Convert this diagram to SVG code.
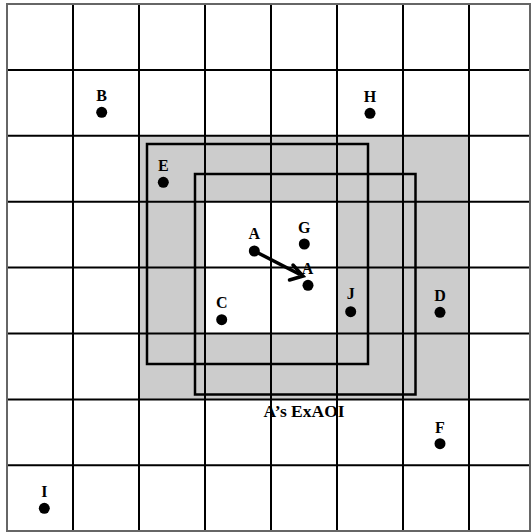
<svg xmlns="http://www.w3.org/2000/svg" width="531" height="532" viewBox="0 0 531 532">
<style>
.grid line{stroke:#000;stroke-width:2}
.lbl{font-family:"Liberation Serif","Times New Roman",serif;font-weight:bold;font-size:16px;text-anchor:middle;fill:#000}
.dot{fill:#000}
.sq{fill:none;stroke:#000;stroke-width:2.5}
</style>
<rect x="0" y="0" width="531" height="532" fill="#fff"/>
<g id="exaoi-area">
<rect x="139" y="135.8" width="330" height="263.6" fill="#cccccc"/>
<rect x="205" y="201.7" width="132" height="131.8" fill="#fff"/>
</g>
<g class="grid" id="grid">
<line x1="73" y1="4" x2="73" y2="531"/>
<line x1="139" y1="4" x2="139" y2="531"/>
<line x1="205" y1="4" x2="205" y2="531"/>
<line x1="271" y1="4" x2="271" y2="531"/>
<line x1="337" y1="4" x2="337" y2="531"/>
<line x1="403" y1="4" x2="403" y2="531"/>
<line x1="469" y1="4" x2="469" y2="531"/>
<line x1="7" y1="69.9" x2="530" y2="69.9"/>
<line x1="7" y1="135.8" x2="530" y2="135.8"/>
<line x1="7" y1="201.7" x2="530" y2="201.7"/>
<line x1="7" y1="267.6" x2="530" y2="267.6"/>
<line x1="7" y1="333.5" x2="530" y2="333.5"/>
<line x1="7" y1="399.4" x2="530" y2="399.4"/>
<line x1="7" y1="465.3" x2="530" y2="465.3"/>
</g>
<rect x="7" y="4" width="523" height="527" fill="none" stroke="#666" stroke-width="2"/>
<g id="aoi-squares">
<rect class="sq" x="147" y="144" width="221" height="220"/>
<rect class="sq" x="195" y="174" width="220.5" height="220.5"/>
</g>
<g id="connectors">
<line x1="254.3" y1="251" x2="300" y2="274.5" stroke="#000" stroke-width="3.5"/>
<polyline points="293,265 303,276 289.5,280" fill="none" stroke="#000" stroke-width="3.5" stroke-linejoin="miter" stroke-linecap="round"/>
</g>
<g id="B"><text class="lbl" x="101.7" y="100.7">B</text><circle class="dot" cx="101.7" cy="112.3" r="5.5"/></g>
<g id="H"><text class="lbl" x="370" y="101.7">H</text><circle class="dot" cx="370" cy="113.3" r="5.5"/></g>
<g id="E"><text class="lbl" x="163.3" y="170.7">E</text><circle class="dot" cx="163.3" cy="182.3" r="5.5"/></g>
<g id="A1"><text class="lbl" x="254.3" y="239.3">A</text><circle class="dot" cx="254.3" cy="251" r="5.5"/></g>
<g id="G"><text class="lbl" x="304.3" y="232.7">G</text><circle class="dot" cx="304.3" cy="244" r="5.5"/></g>
<g id="A2"><text class="lbl" x="307.5" y="274">A</text><circle class="dot" cx="308" cy="285.3" r="5.5"/></g>
<g id="C"><text class="lbl" x="221.7" y="308.3">C</text><circle class="dot" cx="221.7" cy="319.7" r="5.5"/></g>
<g id="J"><text class="lbl" x="350.7" y="299">J</text><circle class="dot" cx="350.7" cy="311.7" r="5.5"/></g>
<g id="D"><text class="lbl" x="440" y="300.7">D</text><circle class="dot" cx="440" cy="312.3" r="5.5"/></g>
<g id="F"><text class="lbl" x="440" y="432.7">F</text><circle class="dot" cx="440" cy="443.7" r="5.5"/></g>
<g id="I"><text class="lbl" x="44.3" y="496.7">I</text><circle class="dot" cx="44.3" cy="508.3" r="5.5"/></g>
<g id="caption"><text class="lbl" x="304" y="417.3" style="font-size:17.5px">A’s ExAOI</text></g>
</svg>
